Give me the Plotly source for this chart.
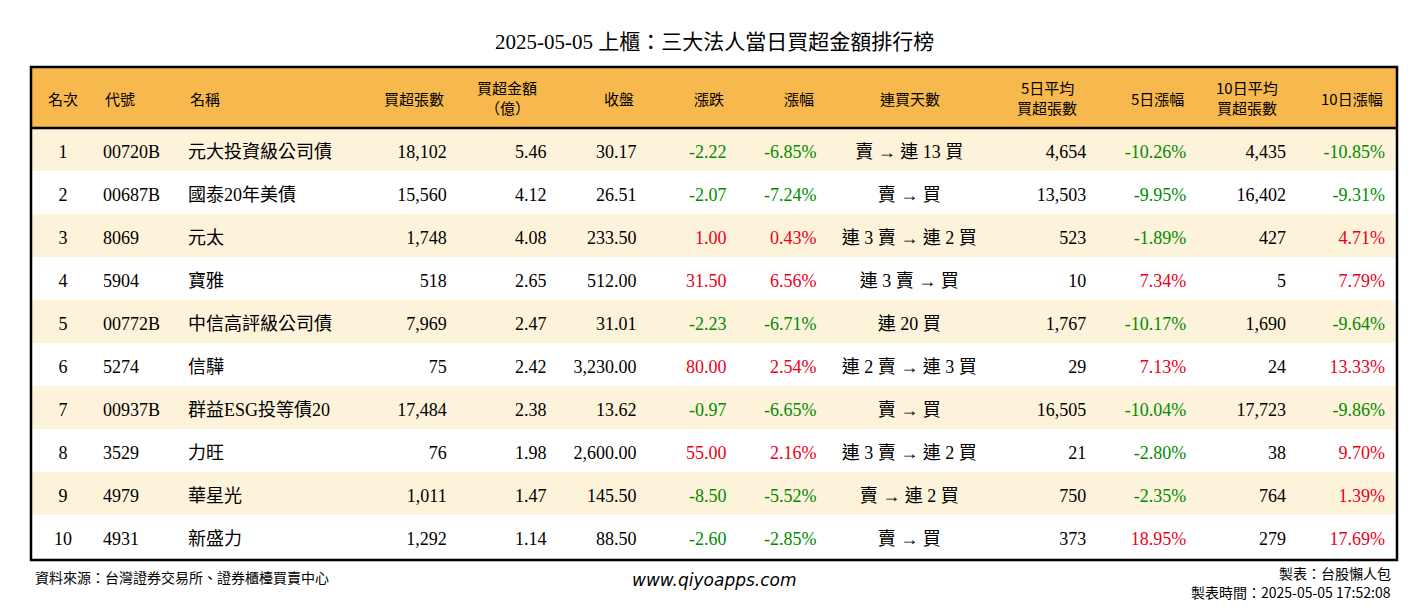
import plotly.graph_objects as go

rank = [str(i) for i in range(1, 11)]
code = ['00720B', '00687B', '8069', '5904', '00772B', '5274', '00937B', '3529', '4979', '4931']
name = ['元大投資級公司債', '國泰20年美債', '元太', '寶雅', '中信高評級公司債', '信驊',
        '群益ESG投等債20', '力旺', '華星光', '新盛力']
buy_vol = [18102, 15560, 1748, 518, 7969, 75, 17484, 76, 1011, 1292]
buy_amt = [5.46, 4.12, 4.08, 2.65, 2.47, 2.42, 2.38, 1.98, 1.47, 1.14]
close = [30.17, 26.51, 233.50, 512.00, 31.01, 3230.00, 13.62, 2600.00, 145.50, 88.50]
chg = [-2.22, -2.07, 1.00, 31.50, -2.23, 80.00, -0.97, 55.00, -8.50, -2.60]
chg_pct = [-6.85, -7.24, 0.43, 6.56, -6.71, 2.54, -6.65, 2.16, -5.52, -2.85]
streak = ['賣 → 連 13 買', '賣 → 買', '連 3 賣 → 連 2 買', '連 3 賣 → 買', '連 20 買',
          '連 2 賣 → 連 3 買', '賣 → 買', '連 3 賣 → 連 2 買', '賣 → 連 2 買', '賣 → 買']
avg5 = [4654, 13503, 523, 10, 1767, 29, 16505, 21, 750, 373]
pct5 = [-10.26, -9.95, -1.89, 7.34, -10.17, 7.13, -10.04, -2.80, -2.35, 18.95]
avg10 = [4435, 16402, 427, 5, 1690, 24, 17723, 38, 764, 279]
pct10 = [-10.85, -9.31, 4.71, 7.79, -9.64, 13.33, -9.86, 9.70, 1.39, 17.69]

headers = ['名次', '代號', '名稱', '買超張數', '買超金額<br>（億）', '收盤', '漲跌', '漲幅',
           '連買天數', '5日平均<br>買超張數', '5日漲幅', '10日平均<br>買超張數', '10日漲幅']

W, H = 1412, 596  # page has an 8px body margin
def px(x):
    return (x - 8) / W
def py(y):
    return 1 - (y - 8) / H

RED, GREEN = '#e8001c', '#008c00'
def col(v):
    return [RED if x > 0 else GREEN for x in v]

black = ['black'] * 10
values = [rank, code, name,
          [f'{v:,}' for v in buy_vol],
          [f'{v:.2f}' for v in buy_amt],
          [f'{v:,.2f}' for v in close],
          [f'{v:.2f}' for v in chg],
          [f'{v:.2f}%' for v in chg_pct],
          streak,
          [f'{v:,}' for v in avg5],
          [f'{v:.2f}%' for v in pct5],
          [f'{v:,}' for v in avg10],
          [f'{v:.2f}%' for v in pct10]]
colors = [black, black, black, black, black, black, col(chg), col(chg_pct), black,
          black, col(pct5), black, col(pct10)]
fills = [['#fdf2da' if i % 2 == 0 else 'white' for i in range(10)]] * 13
align = ['center', 'left', 'left', 'right', 'right', 'right', 'right', 'right', 'center',
         'right', 'right', 'right', 'right']
widths = [64, 85, 180, 95, 100, 90, 90, 90, 170, 100, 100, 100, 99]

L, R, T, B = 31, 1397, 67, 560
font = 'Liberation Serif, Noto Sans CJK TC'
clear = 'rgba(0,0,0,0)'
blank = [[''] * 10] * 13

# background table: fills only
fig = go.Figure(go.Table(
    domain=dict(x=[px(L), px(R)], y=[py(B), py(T)]),
    columnwidth=widths,
    header=dict(values=[''] * 13, fill_color='#f7b84d', height=61, line_color=clear),
    cells=dict(values=blank, fill_color=fills, height=43, line_color=clear),
))
# text table shifted down so the text sits centred in each row
tw = sum(widths) / (sum(widths) + 3) * (R - L)
fig.add_trace(go.Table(
    domain=dict(x=[px(L), px(L + tw)], y=[py(B + 8), py(T + 8)]),
    columnwidth=widths,
    header=dict(values=[''] * 13, fill_color=clear, height=61, line_color=clear),
    cells=dict(values=values, fill_color=clear, align=align, height=43,
               line_color=clear, font=dict(family=font, size=18, color=colors)),
))

# header labels as annotations so they sit vertically centred
left = L
scale = (R - L) / (sum(widths) + 3)
for h, w, a in zip(headers, widths, align):
    w = w * scale
    lines = h.split('<br>')
    if len(lines) > 1:
        x, anchor = left + w / 2 + 2, 'center'
    elif a == 'left':
        x, anchor = left + 8, 'left'
    elif a == 'right':
        x, anchor = left + w - 9, 'right'
    else:
        x, anchor = left + w / 2, 'center'
    ys = [98] if len(lines) == 1 else [87, 108]
    for line, y in zip(lines, ys):
        fig.add_annotation(text=line, x=px(x), y=py(y), xref='paper', yref='paper',
                           showarrow=False, xanchor=anchor, yanchor='middle',
                           font=dict(family='Noto Sans CJK TC', size=15, color='black'))
    left += w

fig.add_shape(type='rect', xref='paper', yref='paper', x0=px(L), x1=px(R),
              y0=py(B), y1=py(T), line=dict(color='black', width=2.5))
fig.add_shape(type='line', xref='paper', yref='paper', x0=px(L), x1=px(R),
              y0=py(128), y1=py(128), line=dict(color='black', width=2.5))

fig.add_annotation(text='2025-05-05 上櫃：三大法人當日買超金額排行榜', x=px(714), y=py(42),
                   xref='paper', yref='paper', showarrow=False, yanchor='middle',
                   font=dict(family=font, size=21, color='black'))
fig.add_annotation(text='資料來源：台灣證券交易所、證券櫃檯買賣中心', x=px(33), y=py(577),
                   xref='paper', yref='paper', showarrow=False, xanchor='left', yanchor='middle',
                   font=dict(family='Noto Sans CJK TC', size=14, color='black'))
fig.add_annotation(text='<i>www.qiyoapps.com</i>', x=px(714), y=py(580),
                   xref='paper', yref='paper', showarrow=False, yanchor='middle',
                   font=dict(family='DejaVu Sans', size=17, color='black'))
fig.add_annotation(text='製表：台股懶人包', x=px(1393), y=py(573),
                   xref='paper', yref='paper', showarrow=False, xanchor='right', yanchor='middle',
                   font=dict(family='Noto Sans CJK TC', size=14, color='black'))
fig.add_annotation(text='製表時間：2025-05-05 17:52:08', x=px(1393), y=py(604),
                   xref='paper', yref='paper', showarrow=False, xanchor='right', yanchor='bottom',
                   font=dict(family='Noto Sans CJK TC', size=14, color='black'))

fig.update_layout(width=W, height=H, margin=dict(l=0, r=0, t=0, b=0),
                  paper_bgcolor='white', plot_bgcolor='white')
fig.write_html('out.html')
